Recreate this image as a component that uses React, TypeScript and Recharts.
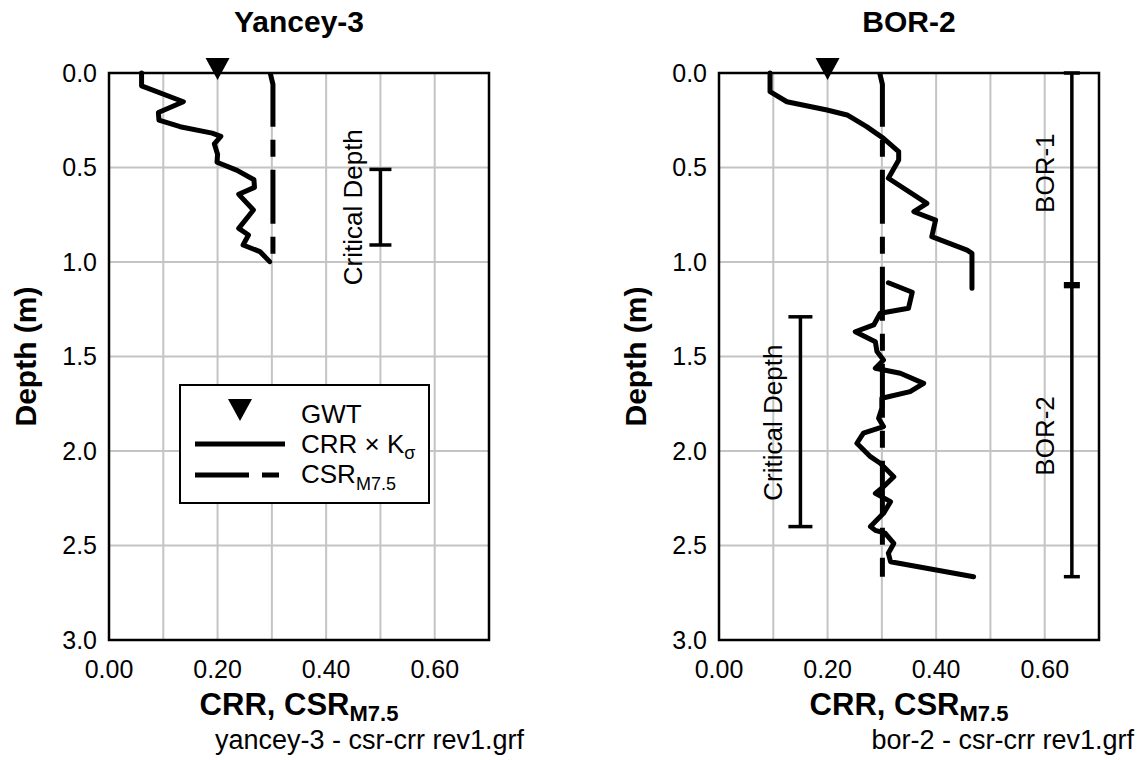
import React from "react";
import { ScatterChart, Scatter, XAxis, YAxis, CartesianGrid, ReferenceArea, Legend } from "recharts";

const FONT = '"Liberation Sans", Arial, Helvetica, sans-serif';

const DEPTH_TICKS = [0, 0.5, 1, 1.5, 2, 2.5, 3];
const RATIO_TICKS = [0, 0.1, 0.2, 0.3, 0.4, 0.5, 0.6, 0.7];
const LABELED_RATIOS = [0, 0.2, 0.4, 0.6];

// Yancey-3 (x = CRR / CSR, d = depth in m)
const yanceyCrr = [
  { x: 0.06, d: 0.0 }, { x: 0.06, d: 0.068 }, { x: 0.137, d: 0.152 }, { x: 0.091, d: 0.209 },
  { x: 0.092, d: 0.249 }, { x: 0.131, d: 0.284 }, { x: 0.19, d: 0.318 }, { x: 0.206, d: 0.335 },
  { x: 0.194, d: 0.375 }, { x: 0.2, d: 0.43 }, { x: 0.199, d: 0.472 }, { x: 0.236, d: 0.515 },
  { x: 0.267, d: 0.565 }, { x: 0.268, d: 0.605 }, { x: 0.239, d: 0.642 }, { x: 0.266, d: 0.725 },
  { x: 0.239, d: 0.822 }, { x: 0.257, d: 0.857 }, { x: 0.247, d: 0.91 }, { x: 0.278, d: 0.945 },
  { x: 0.296, d: 0.998 },
];
const yanceyCsr = [{ x: 0.297, d: 0.0 }, { x: 0.302, d: 0.06 }, { x: 0.302, d: 0.97 }];
const yanceyGwt = [{ x: 0.2, d: 0 }];
const yanceyCritical = [{ x: 0.5, d: 0.51 }, { x: 0.5, d: 0.91 }];
const yanceyNotes = [{ x: 0.45, d: 0.71, label: "Critical Depth" }];

// BOR-2
const borCrrUpper = [
  { x: 0.094, d: 0.0 }, { x: 0.094, d: 0.099 }, { x: 0.125, d: 0.152 }, { x: 0.199, d: 0.196 },
  { x: 0.236, d: 0.222 }, { x: 0.272, d: 0.284 }, { x: 0.303, d: 0.346 }, { x: 0.331, d: 0.416 },
  { x: 0.331, d: 0.46 }, { x: 0.312, d: 0.557 }, { x: 0.383, d: 0.69 }, { x: 0.359, d: 0.734 },
  { x: 0.399, d: 0.778 }, { x: 0.392, d: 0.866 }, { x: 0.457, d: 0.937 }, { x: 0.466, d: 0.954 },
  { x: 0.466, d: 1.139 },
];
const borCrrLower = [
  { x: 0.312, d: 1.11 }, { x: 0.356, d: 1.16 }, { x: 0.349, d: 1.245 }, { x: 0.297, d: 1.271 },
  { x: 0.285, d: 1.333 }, { x: 0.251, d: 1.369 }, { x: 0.288, d: 1.422 }, { x: 0.291, d: 1.474 },
  { x: 0.303, d: 1.519 }, { x: 0.288, d: 1.562 }, { x: 0.334, d: 1.589 }, { x: 0.377, d: 1.642 },
  { x: 0.352, d: 1.686 }, { x: 0.3, d: 1.721 }, { x: 0.3, d: 1.774 }, { x: 0.294, d: 1.827 },
  { x: 0.303, d: 1.871 }, { x: 0.266, d: 1.906 }, { x: 0.254, d: 1.959 }, { x: 0.279, d: 2.03 },
  { x: 0.297, d: 2.065 }, { x: 0.322, d: 2.136 }, { x: 0.303, d: 2.189 }, { x: 0.288, d: 2.224 },
  { x: 0.316, d: 2.268 }, { x: 0.303, d: 2.33 }, { x: 0.279, d: 2.4 }, { x: 0.288, d: 2.42 },
  { x: 0.306, d: 2.435 }, { x: 0.322, d: 2.489 }, { x: 0.312, d: 2.541 }, { x: 0.316, d: 2.586 },
  { x: 0.469, d: 2.665 },
];
const borCsr = [{ x: 0.296, d: 0.0 }, { x: 0.301, d: 0.06 }, { x: 0.301, d: 2.665 }];
const borGwt = [{ x: 0.2, d: 0 }];
const borCritical = [{ x: 0.15, d: 1.29 }, { x: 0.15, d: 2.4 }];
const bor1Range = [{ x: 0.65, d: 0 }, { x: 0.65, d: 1.115 }];
const bor2Range = [{ x: 0.65, d: 1.13 }, { x: 0.65, d: 2.665 }];
const borNotes = [
  { x: 0.1, d: 1.85, label: "Critical Depth" },
  { x: 0.6, d: 0.53, label: "BOR-1" },
  { x: 0.6, d: 1.92, label: "BOR-2" },
];

const lineStyle = { stroke: "#000", strokeWidth: 5, strokeLinejoin: "round", strokeLinecap: "round" };
const csrStyle = { stroke: "#000", strokeWidth: 5, strokeDasharray: "54 13 17 13" };
const barStyle = { stroke: "#000", strokeWidth: 3.5 };

const noDot = () => <g />;
const triangle = (p: any) => (
  <polygon points={`${p.cx - 12},${p.cy - 15} ${p.cx + 12},${p.cy - 15} ${p.cx},${p.cy + 7}`} fill="#000" />
);
const cap = (half: number) => (p: any) => (
  <line x1={p.cx - half} x2={p.cx + half} y1={p.cy} y2={p.cy} stroke="#000" strokeWidth={3.5} />
);
const rotatedText = (p: any) => (
  <text x={p.cx} y={p.cy} transform={`rotate(-90 ${p.cx} ${p.cy})`} textAnchor="middle" dy="0.35em" fontSize={26} fill="#000">
    {p.payload.label}
  </text>
);

const XTick = ({ x, y, payload }: any) =>
  LABELED_RATIOS.includes(payload.value) ? (
    <text x={x} y={y + 38} textAnchor="middle" fontSize={25} fill="#000">{payload.value.toFixed(2)}</text>
  ) : (
    <g />
  );
const YTick = ({ x, y, payload }: any) => (
  <text x={x - 12} y={y} dy="0.35em" textAnchor="end" fontSize={25} fill="#000">{payload.value.toFixed(1)}</text>
);
const XLabel = ({ viewBox }: any) => (
  <text x={viewBox.x + viewBox.width / 2} y={viewBox.y + 75} textAnchor="middle" fontSize={31} fontWeight="bold" fill="#000">
    CRR, CSR<tspan fontSize={22} dy={6}>M7.5</tspan>
  </text>
);
const YLabel = ({ viewBox }: any) => {
  const cx = viewBox.x + 25;
  const cy = viewBox.y + viewBox.height / 2;
  return (
    <text x={cx} y={cy} transform={`rotate(-90 ${cx} ${cy})`} dy="0.35em" textAnchor="middle" fontSize={30} fontWeight="bold" fill="#000">
      Depth (m)
    </text>
  );
};

function LegendBox() {
  return (
    <svg width={251} height={120} style={{ display: "block", fontFamily: FONT }}>
      <rect x={1} y={1} width={249} height={118} fill="#fff" stroke="#000" strokeWidth={2} />
      <polygon points="49,15 73,15 61,37" fill="#000" />
      <line x1={16} x2={106} y1={60} y2={60} stroke="#000" strokeWidth={5} />
      <line x1={16} x2={100} y1={91} y2={91} stroke="#000" strokeWidth={5} strokeDasharray="54 13 17 200" />
      <text x={122} y={39} fontSize={26}>GWT</text>
      <text x={122} y={69} fontSize={26}>CRR × K<tspan fontSize={18} dy={6}>σ</tspan></text>
      <text x={122} y={99} fontSize={26}>CSR<tspan fontSize={18} dy={7}>M7.5</tspan></text>
    </svg>
  );
}

function Panel({ title, file, left, width, children }: any) {
  const plotW = 380;
  return (
    <div style={{ position: "absolute", left, top: 0, width, height: 760 }}>
      <ScatterChart
        width={width}
        height={760}
        margin={{ top: 73, right: width - 109 - plotW, bottom: 0, left: 0 }}
        style={{ fontFamily: FONT }}
      >
        <CartesianGrid stroke="#c4c4c4" strokeWidth={2} />
        <XAxis type="number" dataKey="x" domain={[0, 0.7]} ticks={RATIO_TICKS} interval={0} height={120}
          axisLine={false} tickLine={false} tickSize={0} tickMargin={0} tick={XTick} label={XLabel} />
        <YAxis type="number" dataKey="d" domain={[0, 3]} reversed ticks={DEPTH_TICKS} interval={0} width={109}
          axisLine={false} tickLine={false} tickSize={0} tickMargin={0} tick={YTick} label={YLabel} />
        <ReferenceArea x1={0} x2={0.7} y1={0} y2={3} fill="none" stroke="#000" strokeWidth={2.5} ifOverflow="visible" />
        {children}
      </ScatterChart>
      <div style={{ position: "absolute", left: 109, width: plotW, top: 7, textAlign: "center", fontFamily: FONT,
        fontSize: 30, lineHeight: "30px", fontWeight: "bold" }}>{title}</div>
      <div style={{ position: "absolute", left: 0, width: 524, top: 730, textAlign: "right", fontFamily: FONT,
        fontSize: 27, lineHeight: "20px", whiteSpace: "nowrap" }}>{file}</div>
    </div>
  );
}

export default function App() {
  return (
    <div style={{ position: "absolute", left: 0, top: 0, width: 1147, height: 760, background: "#fff" }}>
      <Panel title="Yancey-3" file="yancey-3 - csr-crr rev1.grf" left={0} width={560}>
        <Scatter data={yanceyCsr} line={csrStyle} shape={noDot} isAnimationActive={false} />
        <Scatter data={yanceyCrr} line={lineStyle} shape={noDot} isAnimationActive={false} />
        <Scatter data={yanceyCritical} line={barStyle} shape={cap(11)} isAnimationActive={false} />
        <Scatter data={yanceyNotes} shape={rotatedText} isAnimationActive={false} />
        <Scatter data={yanceyGwt} shape={triangle} isAnimationActive={false} />
        <Legend layout="vertical" align="center" verticalAlign="middle" content={() => <LegendBox />}
          wrapperStyle={{ position: "absolute", left: 179, top: 384, width: 251, height: 120 }} />
      </Panel>
      <Panel title="BOR-2" file="bor-2 - csr-crr rev1.grf" left={610} width={537}>
        <Scatter data={borCsr} line={csrStyle} shape={noDot} isAnimationActive={false} />
        <Scatter data={borCrrUpper} line={lineStyle} shape={noDot} isAnimationActive={false} />
        <Scatter data={borCrrLower} line={lineStyle} shape={noDot} isAnimationActive={false} />
        <Scatter data={borCritical} line={barStyle} shape={cap(12)} isAnimationActive={false} />
        <Scatter data={bor1Range} line={barStyle} shape={cap(8)} isAnimationActive={false} />
        <Scatter data={bor2Range} line={barStyle} shape={cap(8)} isAnimationActive={false} />
        <Scatter data={borNotes} shape={rotatedText} isAnimationActive={false} />
        <Scatter data={borGwt} shape={triangle} isAnimationActive={false} />
      </Panel>
    </div>
  );
}
